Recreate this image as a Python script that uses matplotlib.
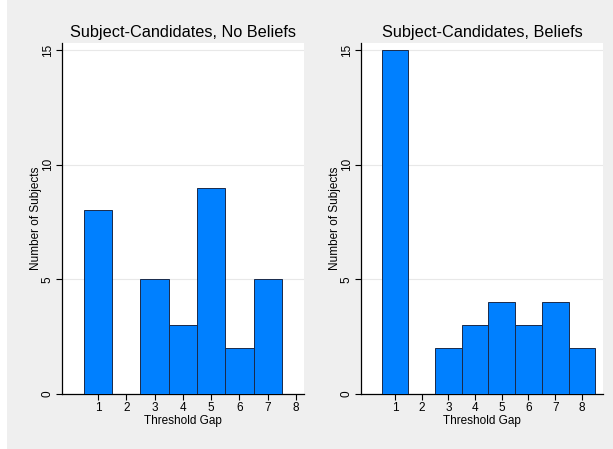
import matplotlib.pyplot as plt
import matplotlib.patches as mpatches

# threshold gap values and subject counts per panel
gaps = [1, 2, 3, 4, 5, 6, 7, 8]
no_beliefs = [8, 0, 5, 3, 9, 2, 5, 0]
beliefs = [15, 0, 2, 3, 4, 3, 4, 2]
titles = ['Subject-Candidates, No Beliefs', 'Subject-Candidates, Beliefs']

plt.rcParams['font.family'] = ['Liberation Sans', 'DejaVu Sans']

bg = '#efefef'
bar_col = '#0080ff'
edge_col = '#1a2a4a'

fig = plt.figure(figsize=(6.13, 4.49), dpi=100, facecolor=bg)
# thin white strip on the left edge
fig.patches.append(mpatches.Rectangle((0, 0), 7 / 613, 1, transform=fig.transFigure,
                                      facecolor='white', edgecolor='none', zorder=0))

panels = [
    ([62 / 613, 55 / 449, 242 / 613, 351 / 449], no_beliefs, (-0.27, 8.28)),
    ([361 / 613, 55 / 449, 242 / 613, 351 / 449], beliefs, (-0.27, 8.79)),
]

for (rect, counts, xlim), title in zip(panels, titles):
    ax = fig.add_axes(rect)
    ax.set_facecolor('white')
    ax.bar(gaps, counts, width=1.0, color=bar_col, edgecolor=edge_col, linewidth=0.7, zorder=3)
    ax.set_xlim(*xlim)
    ax.set_ylim(0, 15.3)
    ax.set_xticks(gaps)
    ax.set_yticks([0, 5, 10, 15])
    ax.set_yticklabels(['0', '5', '10', '15'], rotation=90, va='center')
    ax.tick_params(axis='both', labelsize=8.5, length=4, width=0.8, colors='black')
    ax.tick_params(axis='y', pad=2)
    ax.tick_params(axis='x', pad=1.5)
    ax.grid(axis='y', color='#e8e8e8', linewidth=0.8, zorder=0)
    for side in ['top', 'right']:
        ax.spines[side].set_visible(False)
    for side in ['left', 'bottom']:
        ax.spines[side].set_linewidth(0.9)
    ax.set_xlabel('Threshold Gap', fontsize=8.5, labelpad=1)
    ax.set_ylabel('Number of Subjects', fontsize=8.5, labelpad=0)
    ax.set_title(title, fontsize=11.7, pad=4)

fig.savefig('out.png', dpi=100, facecolor=bg)
